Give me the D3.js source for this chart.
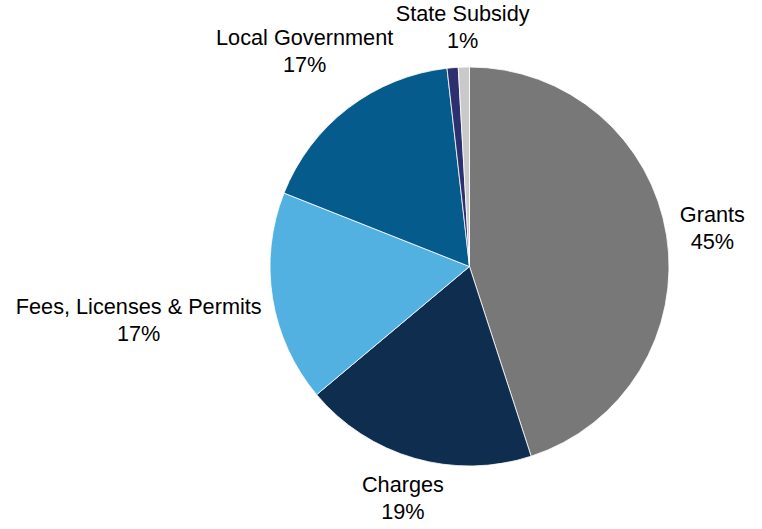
<!DOCTYPE html>
<html>
<head>
<meta charset="utf-8">
<script src="https://cdn.jsdelivr.net/npm/d3@7"></script>
<style>
  body { margin: 0; background: #fff; }
  #chart text { font-family: "Liberation Sans", Arial, sans-serif; }
</style>
</head>
<body>
<div id="chart"></div>
<script>
// slices, clockwise from 12 o'clock
let categories = ["Grants", "Charges", "Fees, Licenses & Permits", "Local Government", "", "State Subsidy"];
let values = [45.0, 18.9, 17.1, 17.2, 0.9, 0.9];
let colors = ["#787878", "#0f2d4e", "#53b1e1", "#055b8b", "#2d306f", "#c9c9c9"];

let width = 762, height = 529;
let cx = 469.5, cy = 266.5, radius = 199.5;
let fontSize = 21.7, lineHeight = 27, gap = 14;

/** SVG */
let svg = d3.select("#chart")
  .append("svg")
  .attr("width", width)
  .attr("height", height);

let data = categories.map((c, i) => ({name: c, value: values[i], color: colors[i]}));
let total = d3.sum(values);

let pie = d3.pie().sort(null).value(d => d.value);
let arc = d3.arc().innerRadius(0).outerRadius(radius);
let arcs = pie(data);

let g = svg.append("g").attr("transform", `translate(${cx},${cy})`);

g.selectAll("path")
  .data(arcs)
  .enter()
  .append("path")
  .attr("d", arc)
  .style("fill", d => d.data.color)
  .style("stroke", "#fff")
  .style("stroke-width", 0.8);

/** LABELS */
let labels = g.append("g").attr("id", "labels");
arcs.filter(d => d.data.name !== "").forEach(d => {
  let pct = Math.round(d.data.value / total * 100) + "%";
  let t = labels.append("text")
    .attr("text-anchor", "middle")
    .attr("font-size", fontSize)
    .style("fill", "#000");
  t.append("tspan").attr("x", 0).attr("dy", 0).text(d.data.name);
  t.append("tspan").attr("x", 0).attr("dy", lineHeight).text(pct);
  // label box sits just outside the slice, along its middle angle
  let bb = t.node().getBBox();
  let w = bb.width, h = bb.height;
  let a = (d.startAngle + d.endAngle) / 2;
  let ux = Math.sin(a), uy = -Math.cos(a);
  let dist = radius + gap + Math.sqrt(Math.pow(ux * w / 2, 2) + Math.pow(uy * h / 2, 2));
  let offX = ux * dist - (bb.x + w / 2);
  let offY = uy * dist - (bb.y + h / 2);
  t.attr("transform", `translate(${offX},${offY})`);
});
</script>
</body>
</html>
